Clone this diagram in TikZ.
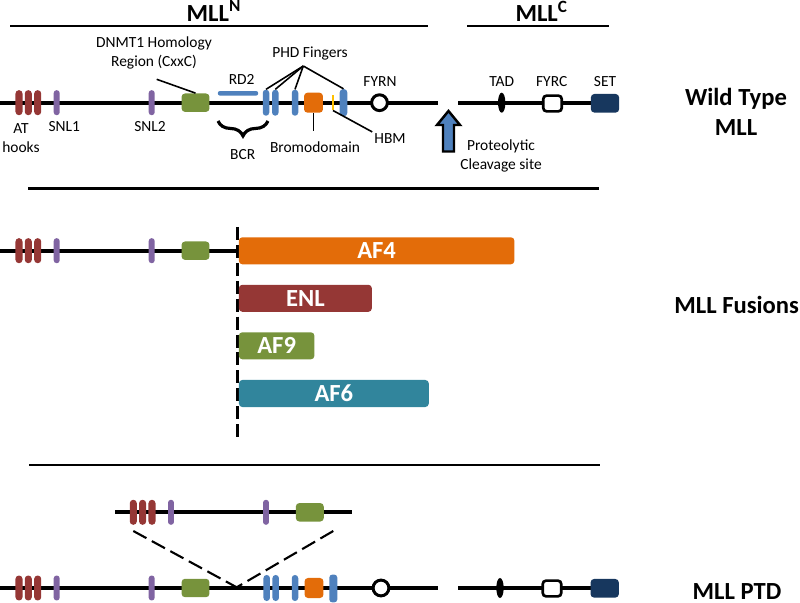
\documentclass[tikz,border=0pt]{standalone}
\usepackage{fontspec}
\setmainfont{Carlito}
\usetikzlibrary{shapes.geometric,decorations.pathreplacing}

\definecolor{hookred}{RGB}{149,55,53}
\definecolor{snlpurple}{RGB}{128,100,162}
\definecolor{cxxcgreen}{RGB}{119,147,60}
\definecolor{phdblue}{RGB}{79,129,189}
\definecolor{bromoorange}{RGB}{227,108,9}
\definecolor{hbmyellow}{RGB}{255,192,0}
\definecolor{setnavy}{RGB}{23,55,94}
\definecolor{afteal}{RGB}{49,133,156}

\tikzset{
  backbone/.style={line width=2.3pt},
  dom/.style={inner sep=0pt, rounded corners=2pt},
  athook/.style={dom, fill=hookred, rounded corners=1.9pt, minimum width=4pt, minimum height=14.2pt},
  snl/.style={dom, fill=snlpurple, rounded corners=1.6pt, minimum width=3.4pt, minimum height=14.2pt},
  cxxc/.style={dom, fill=cxxcgreen, minimum width=15.9pt, minimum height=10.5pt},
  rdbar/.style={dom, fill=phdblue, rounded corners=1.2pt, minimum width=23pt, minimum height=2.6pt},
  phd/.style={dom, fill=phdblue, rounded corners=1.8pt, minimum width=3.7pt, minimum height=14.8pt},
  bromo/.style={dom, fill=bromoorange, minimum width=10.8pt, minimum height=11.4pt},
  hbm/.style={dom, fill=hbmyellow, sharp corners, minimum width=1.7pt, minimum height=8.5pt},
  fyr/.style={circle, draw, line width=1.7pt, fill=white, inner sep=0pt, minimum size=9pt},
  tad/.style={ellipse, fill=black, inner sep=0pt, minimum width=4.2pt, minimum height=11.4pt},
  fyrc/.style={dom, draw, line width=1.5pt, fill=white, minimum width=10.6pt, minimum height=9pt},
  setdom/.style={dom, fill=setnavy, minimum width=16.1pt, minimum height=10.6pt},
  fusion/.style={fill=#1, rounded corners=2pt, anchor=west, inner sep=0pt, minimum height=15.4pt,
    text=white, font=\fontsize{14}{17}\selectfont\bfseries},
  lbl/.style={font=\fontsize{8.8}{10.8}\selectfont, inner sep=1pt, align=center},
  rowtitle/.style={font=\fontsize{14}{17}\selectfont\bfseries, align=center},
  leader/.style={line width=0.9pt},
}

% N-terminal part: AT hooks, SNL1, SNL2 and CxxC
\def\nterm#1(#2,#3){%
  \begin{scope}[shift={(#2,#3)}]
    \node[athook] (#1hookA) at (19,0) {};
    \node[athook] (#1hookB) at (28.3,0) {};
    \node[athook] (#1hookC) at (37.7,0) {};
    \node[snl] (#1snlA) at (56.7,0) {};
    \node[snl] (#1snlB) at (151.7,0) {};
    \node[cxxc] (#1cxxc) at (195.5,0) {};
  \end{scope}}

\begin{document}
\begin{tikzpicture}[x=0.2mm, y=-0.2mm]
  %%%%% START %%%%%
  \useasboundingbox (0,0) rectangle (800,603);

  % titles
  \draw[line width=1.1pt] (10,26) -- (428,26);
  \draw[line width=1.1pt] (467,26) -- (609,26);
  \node[rowtitle] (mllN) at (214,11) {MLL\textsuperscript{N}};
  \node[rowtitle] (mllC) at (541.7,11) {MLL\textsuperscript{C}};

  % wild type
  \draw[backbone] (0,102.7) -- (438,102.7);
  \draw[backbone] (458,102.7) -- (600,102.7);
  \nterm top(0,102.7)
  \node[rdbar] (toprd) at (238,93.3) {};
  \node[phd] (topphdA) at (266,102.7) {};
  \node[phd] (topphdB) at (275.3,102.7) {};
  \node[phd] (topphdC) at (295,102.7) {};
  \node[bromo] (topbromo) at (313.5,102.7) {};
  \node[hbm] (tophbm) at (333,102.7) {};
  \node[phd, minimum width=4.3pt, minimum height=15.4pt] (topphdD) at (343.5,102.7) {};
  \node[fyr] (topfyrn) at (379.5,102.7) {};
  \node[tad] (toptad) at (501.7,102.7) {};
  \node[fyrc] (topfyrc) at (552.5,103.5) {};
  \node[setdom] (topset) at (605,103.3) {};

  \node[lbl] (hooklbl) at (21,138) {AT\\hooks};
  \node[lbl] (snlAlbl) at (64.3,126.5) {SNL1};
  \node[lbl] (snlBlbl) at (150,126.5) {SNL2};
  \node[lbl] (cxxclbl) at (154,52.5) {DNMT1 Homology\\Region (CxxC)};
  \node[lbl] (rdlbl) at (241.7,79.5) {RD2};
  \node[lbl] (phdlbl) at (310,53.5) {PHD Fingers};
  \node[lbl] (fyrnlbl) at (380,81.5) {FYRN};
  \node[lbl] (bcrlbl) at (242.7,155) {BCR};
  \node[lbl] (bromolbl) at (315,147) {Bromodomain};
  \node[lbl] (hbmlbl) at (390,139) {HBM};
  \node[lbl] (tadlbl) at (501.7,81.5) {TAD};
  \node[lbl] (fyrclbl) at (551.7,81.5) {FYRC};
  \node[lbl] (setlbl) at (605,81.5) {SET};
  \node[lbl] (cleavelbl) at (501,155.5) {Proteolytic\\Cleavage site};

  \coordinate (cxxcfoot) at (156.7,79.3);
  \draw[leader] (cxxcfoot) -- (topcxxc.north);
  \coordinate (phdapex) at (303.3,66);
  \foreach \p in {A,B,C,D}
    \draw[leader] (phdapex) -- (topphd\p.north);
  \draw[leader, shorten >=5pt] (topbromo.south) -- (topbromo.south |- bromolbl.north);
  \draw[leader] (tophbm.south) -- (hbmlbl.north west);
  \draw[line width=1.8pt, decorate, decoration={brace, amplitude=8.5pt}] (268,121) -- (218,121);

  % cleavage arrow
  \draw[line width=1.4pt, fill=phdblue, line join=miter]
    (448.5,111) -- (460,125) -- (454,125) -- (454,151.5) -- (443,151.5) -- (443,125) -- (437,125) -- cycle;

  \node[rowtitle] (wtlbl) at (736,111.7) {Wild Type\\MLL};

  \draw[line width=1.7pt] (28,188.5) -- (598.5,188.5);

  % fusions
  \draw[backbone] (0,250.7) -- (237.5,250.7);
  \nterm fus(0,250.7)
  \draw[line width=1.6pt, dash pattern=on 7.4pt off 2.8pt] (237.5,227) -- (237.5,437);
  \node[fusion=bromoorange, minimum width=156.8pt] (af4) at (238.5,250.8) {AF4};
  \node[fusion=hookred, minimum width=75.7pt] (enl) at (238.5,298.3) {ENL};
  \node[fusion=cxxcgreen, minimum width=43pt] (af9) at (238.5,345.8) {AF9};
  \node[fusion=afteal, minimum width=108.1pt] (af6) at (238.5,393.5) {AF6};

  \node[rowtitle] (fuslbl) at (736.7,305) {MLL Fusions};

  \draw[line width=1.7pt] (29,465) -- (599.5,465);

  % partial tandem duplication
  \draw[backbone] (115,512.3) -- (352,512.3);
  \nterm dup(114.3,512.3)
  \coordinate (dupL) at (133.3,531);
  \coordinate (dupR) at (333.3,531);
  \coordinate (ptdjoin) at (236.7,587.3);
  \draw[line width=1.2pt, dash pattern=on 8.5pt off 3.5pt] (dupL) -- (ptdjoin);
  \draw[line width=1.2pt, dash pattern=on 8.5pt off 3.5pt] (dupR) -- (ptdjoin);

  \draw[backbone] (0,588) -- (438,588);
  \draw[backbone] (458,588) -- (600,588);
  \nterm low(0,588)
  \node[phd] (lowphdA) at (266.7,588) {};
  \node[phd] (lowphdB) at (275.7,588) {};
  \node[phd] (lowphdC) at (295,588) {};
  \node[bromo] (lowbromo) at (314,588) {};
  \node[phd, minimum width=4.6pt, minimum height=15.9pt] (lowphdD) at (333.3,588.5) {};
  \node[fyr] (lowfyrn) at (381,588) {};
  \node[tad] (lowtad) at (500,588) {};
  \node[fyrc] (lowfyrc) at (552,588.5) {};
  \node[setdom] (lowset) at (604.7,588.3) {};

  \node[rowtitle] (ptdlbl) at (737,591.5) {MLL PTD};
  %%%%% END %%%%%
\end{tikzpicture}
\end{document}
